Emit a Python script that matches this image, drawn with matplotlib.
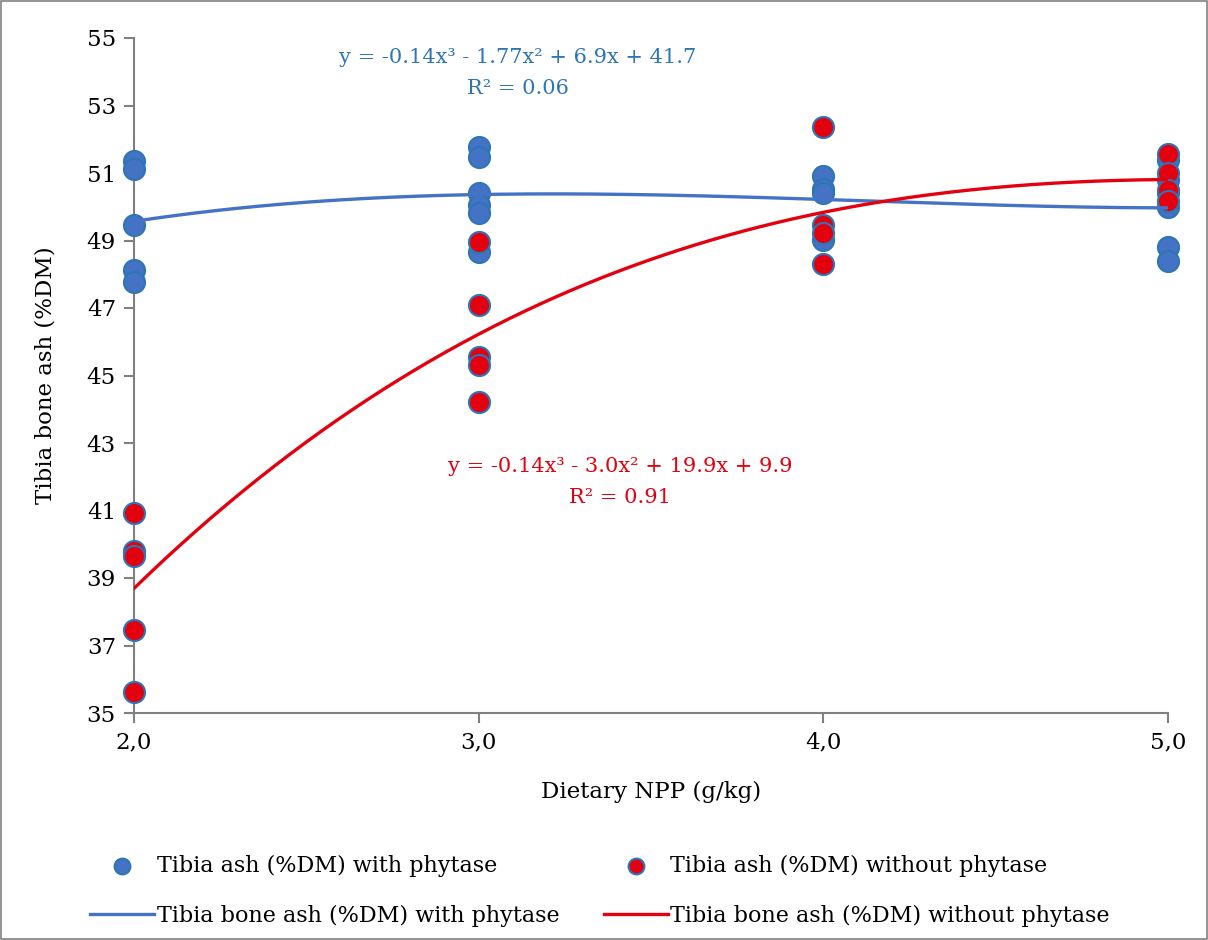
import numpy as np
import matplotlib
matplotlib.use('Agg')
import matplotlib.pyplot as plt
from matplotlib.patches import Rectangle

plt.rcParams['font.family'] = ['DejaVu Serif']

# dietary NPP levels and tibia ash readings
x_with = [2]*5 + [3]*6 + [4]*4 + [5]*6
y_with = [51.36, 51.12, 49.46, 48.13, 47.77,
          51.77, 51.47, 50.41, 50.05, 49.81, 48.66,
          50.91, 50.53, 50.41, 49.01,
          51.4, 50.8, 50.4, 50.0, 48.81, 48.39]
x_without = [2]*5 + [3]*5 + [4]*4 + [5]*4
y_without = [40.93, 39.80, 39.65, 37.46, 35.62,
             48.96, 47.09, 45.55, 45.31, 44.21,
             52.36, 49.46, 49.22, 48.30,
             51.56, 51.00, 50.50, 50.17]
xticks = [2, 3, 4, 5]
xtick_labels = ['2,0', '3,0', '4,0', '5,0']
yticks = list(range(35, 56, 2))
eq_with = 'y = -0.14x³ - 1.77x² + 6.9x + 41.7\nR² = 0.06'
eq_without = 'y = -0.14x³ - 3.0x² + 19.9x + 9.9\nR² = 0.91'

c_blue = '#4472C4'
c_edge = '#2E75B6'
c_red = '#E3000F'
c_txt_blue = '#2E75B6'

fig = plt.figure(figsize=(12.08, 9.4), dpi=100)
ax = fig.add_axes([134/1208, 1-713/940, (1168-134)/1208, (713-38)/940])

xs = np.linspace(2, 5, 200)
p_with = np.polyfit(x_with, y_with, 3)
p_without = np.polyfit(x_without, y_without, 3)

sb = ax.scatter(x_with, y_with, s=230, color=c_blue, edgecolors=c_edge, linewidths=1.5, zorder=3,
                clip_on=False, label='Tibia ash (%DM) with phytase')
sr = ax.scatter(x_without, y_without, s=230, color=c_red, edgecolors=c_edge, linewidths=1.5, zorder=4,
                clip_on=False, label='Tibia ash (%DM) without phytase')
lb, = ax.plot(xs, np.polyval(p_with, xs), color=c_blue, lw=2.4, zorder=5,
              label='Tibia bone ash (%DM) with phytase')
lr, = ax.plot(xs, np.polyval(p_without, xs), color=c_red, lw=2.4, zorder=5,
              label='Tibia bone ash (%DM) without phytase')

ax.set_xlim(2, 5)
ax.set_ylim(35, 55)
ax.set_xticks(xticks)
ax.set_xticklabels(xtick_labels)
ax.set_yticks(yticks)
for s in ['top', 'right']:
    ax.spines[s].set_visible(False)
for s in ['left', 'bottom']:
    ax.spines[s].set_color('#808080')
    ax.spines[s].set_linewidth(1.5)
ax.tick_params(axis='both', direction='out', length=7, width=1.5, color='#808080',
               labelsize=16.5, pad=6)
ax.set_xlabel('Dietary NPP (g/kg)', fontsize=16.5, labelpad=20)
ax.set_ylabel('Tibia bone ash (%DM)', fontsize=16.5, labelpad=22)

ax.text(518/1208, 1-73/940, eq_with, transform=fig.transFigure, ha='center', va='center',
        fontsize=15, color=c_txt_blue, linespacing=1.8)
ax.text(620/1208, 1-482/940, eq_without, transform=fig.transFigure, ha='center', va='center',
        fontsize=15, color=c_red, linespacing=1.8)

fig.legend(handles=[sb, lb, sr, lr], ncol=2, loc='upper left', bbox_to_anchor=(70/1208, 1-835/940),
           frameon=False, fontsize=16, handlelength=2.9, handletextpad=0.1, columnspacing=2.0,
           labelspacing=1.25, markerscale=0.75)

fig.patches.append(Rectangle((0.001, 0.001), 0.998, 0.998, transform=fig.transFigure,
                             fill=False, edgecolor='#808080', lw=1.2))

fig.savefig('out.png', dpi=100)
